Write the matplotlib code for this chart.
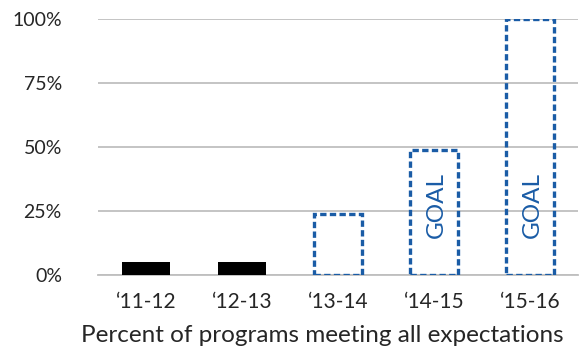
import matplotlib.pyplot as plt

plt.rcParams['font.family'] = ['Lato', 'DejaVu Sans']

# program years and share meeting all expectations (%)
years = ["\u201811-12", "\u201812-13", "\u201813-14", "\u201814-15", "\u201815-16"]
actual = [5, 5, None, None, None]
goal = [None, None, 24, 49, 100]
goal_label = [None, None, None, "GOAL", "GOAL"]

blue = "#1a5ca6"
grey = "#bfbfbf"
text = "#262626"

fig = plt.figure(figsize=(5.8, 3.52), dpi=100)
ax = fig.add_axes([98 / 580, 1 - 275 / 352, 480 / 580, 256 / 352])

x = range(len(years))
for i in x:
    if actual[i] is not None:
        ax.bar(i, actual[i], width=0.5, color="black", zorder=3)
    if goal[i] is not None:
        ax.bar(i, goal[i], width=0.5, facecolor="none", edgecolor=blue,
               linewidth=2.4, linestyle=(0, (1.9, 1.0)), zorder=3)
    if goal_label[i]:
        ax.text(i + 0.02, 27.5, goal_label[i], rotation=90, color=blue,
                fontsize=17.5, ha="center", va="center")

ax.set_xlim(-0.5, len(years) - 0.5)
ax.set_ylim(0, 100)
ax.set_yticks([0, 25, 50, 75, 100])
ax.set_yticklabels(["0%", "25%", "50%", "75%", "100%"])
ax.set_xticks(list(x))
ax.set_xticklabels(years)
ax.tick_params(length=0, labelsize=14, colors=text)
ax.tick_params(axis="x", labelsize=15, pad=12)
ax.tick_params(axis="y", pad=26)
ax.grid(axis="y", color=grey, linewidth=1.3, zorder=0)
ax.set_axisbelow(True)
for side in ["top", "right", "left"]:
    ax.spines[side].set_visible(False)
ax.spines["bottom"].set_color(grey)
ax.spines["bottom"].set_linewidth(1.3)

# axis title sits a little left of the plot centre
fig.text(322 / 580, 1 - 335 / 352, "Percent of programs meeting all expectations",
         fontsize=17.5, color=text, ha="center", va="center")

fig.savefig("out.png", dpi=100)
